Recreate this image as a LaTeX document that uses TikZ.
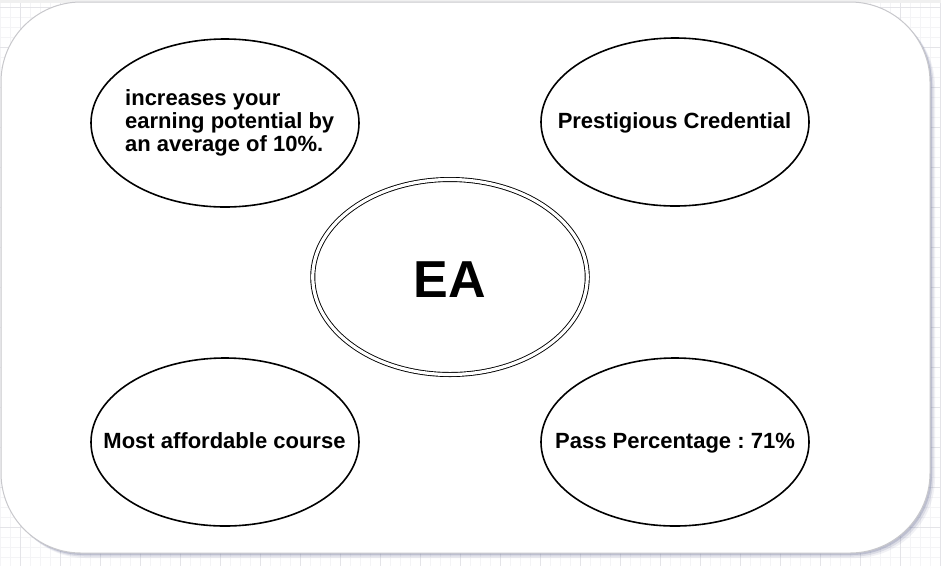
\documentclass[tikz,border=0pt]{standalone}
\usepackage{fontspec}
\setmainfont{Liberation Sans}
\usetikzlibrary{shapes.geometric,shadows}
\frenchspacing

\definecolor{gridminor}{RGB}{244,244,246}
\definecolor{gridmajor}{RGB}{228,228,232}
\definecolor{boardline}{RGB}{200,200,204}
\definecolor{boardshade}{RGB}{120,126,160}

\begin{document}
\begin{tikzpicture}[x=1pt,y=-1pt,
    minorline/.style={gridminor,line width=0.6pt},
    majorline/.style={gridmajor,line width=0.8pt},
    board/.style={draw=boardline,fill=white,line width=1pt,rounded corners=80pt,
      drop shadow={shadow xshift=5pt,shadow yshift=-5pt,fill=boardshade,opacity=0.10},
      drop shadow={shadow xshift=3.5pt,shadow yshift=-3.5pt,fill=boardshade,opacity=0.18},
      drop shadow={shadow xshift=2pt,shadow yshift=-2pt,fill=boardshade,opacity=0.30}},
    bubble/.style={ellipse,draw,line width=1.6pt,minimum width=268pt,minimum height=168pt,inner sep=0pt},
    hub/.style={ellipse,draw,line width=0.9pt,double,double distance=3.2pt,
      minimum width=274.5pt,minimum height=195pt,inner sep=0pt},
    caption/.style={font=\fontsize{22}{23}\selectfont\bfseries,inner sep=0pt},
    title/.style={font=\fontsize{52}{56}\selectfont\bfseries,inner sep=0pt}]

  \useasboundingbox (0,0) rectangle (941,566);

  % --- the page grid behind the board ---
  \fill[white] (0,0) rectangle (941,566);
  \foreach \gx in {0,10,...,940} \draw[minorline] (\gx,0) -- (\gx,566);
  \foreach \gy in {7,17,...,566} \draw[minorline] (0,\gy) -- (941,\gy);
  \foreach \gx in {20,60,...,940} \draw[majorline] (\gx,0) -- (\gx,566);
  \foreach \gy in {7,47,...,566} \draw[majorline] (0,\gy) -- (941,\gy);
  \fill[gray!12] (0,0) rectangle (941,2.5);

  % --- the rounded board ---
  \draw[board] (1,2) rectangle (930,553);

  % --- the four bubbles round the hub ---
  \node[bubble] (earning)  at (225,123) {};
  \node[bubble] (prestige) at (675,122) {};
  \node[bubble] (cost)     at (225,442) {};
  \node[bubble] (pass)     at (675,442) {};
  \node[hub]    (ea)       at (450,277) {};

  % --- lettering ---
  \node[caption,align=left,anchor=base west] (earning-t) at (125,151)
    {increases your\\earning potential by\\an average of 10\%.};
  \node[caption,anchor=base] (prestige-t) at (674.5,128.5) {Prestigious Credential};
  \node[caption,anchor=base] (cost-t)     at (224.5,448)   {Most affordable course};
  \node[caption,anchor=base] (pass-t)     at (675,448)     {Pass Percentage : 71\%};
  \node[title,anchor=base]   (ea-t)       at (450,297)     {EA};
\end{tikzpicture}
\end{document}
